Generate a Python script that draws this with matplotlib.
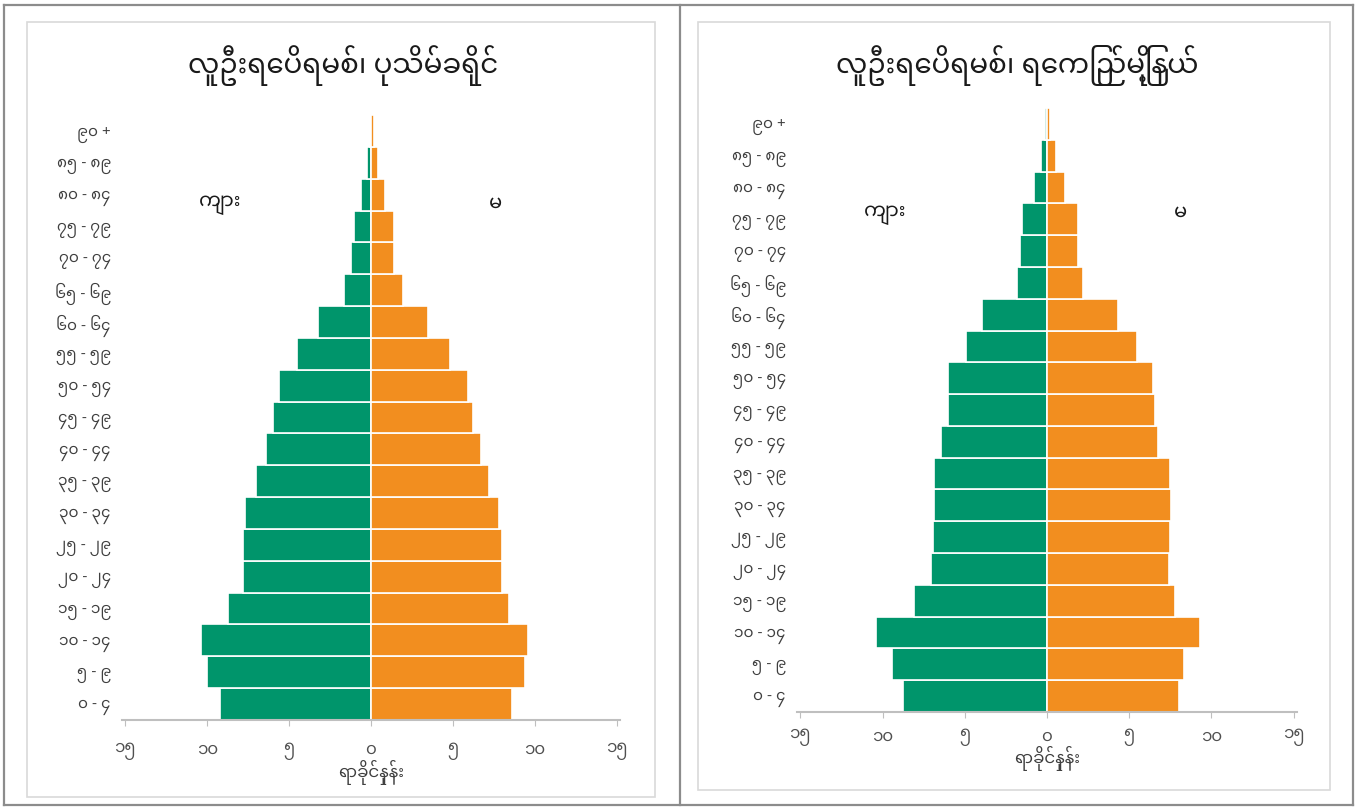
import numpy as np
import matplotlib
matplotlib.use("Agg")
import matplotlib.pyplot as plt
from matplotlib import font_manager
from matplotlib.patches import Rectangle
from matplotlib.lines import Line2D

# ========== DATA ==========
age_groups = ["၀ - ၄", "၅ - ၉", "၁၀ - ၁၄", "၁၅ - ၁၉", "၂၀ - ၂၄", "၂၅ - ၂၉", "၃၀ - ၃၄",
              "၃၅ - ၃၉", "၄၀ - ၄၄", "၄၅ - ၄၉", "၅၀ - ၅၄", "၅၅ - ၅၉", "၆၀ - ၆၄",
              "၆၅ - ၆၉", "၇၀ - ၇၄", "၇၅ - ၇၉", "၈၀ - ၈၄", "၈၅ - ၈၉", "၉၀ +"]

# left chart: district (percent)
left_male = [9.2, 10.0, 10.4, 8.7, 7.8, 7.8, 7.7, 7.0, 6.4, 6.0, 5.6, 4.5, 3.25,
             1.65, 1.2, 1.05, 0.6, 0.26, 0.08]
left_female = [8.6, 9.4, 9.6, 8.4, 8.0, 8.0, 7.8, 7.2, 6.7, 6.2, 5.9, 4.8, 3.5,
               1.95, 1.43, 1.4, 0.86, 0.4, 0.16]

# right chart: township (percent)
right_male = [8.75, 9.4, 10.4, 8.1, 7.05, 6.95, 6.9, 6.9, 6.45, 6.0, 6.0, 4.95, 3.95,
              1.8, 1.62, 1.5, 0.82, 0.36, 0.1]
right_female = [8.0, 8.3, 9.3, 7.8, 7.4, 7.5, 7.55, 7.5, 6.75, 6.55, 6.47, 5.5, 4.3,
                2.2, 1.87, 1.87, 1.08, 0.54, 0.2]

titles = ["လူဦးရေပိရမစ်၊ ပုသိမ်ခရိုင်", "လူဦးရေပိရမစ်၊ ရေကြည်မြို့နယ်"]
male_label = "ကျား"
female_label = "မ"
xlabel = "ရာခိုင်နှုန်း"
xticks = [-15, -10, -5, 0, 5, 10, 15]
xtick_labels = ["၁၅", "၁၀", "၅", "၀", "၅", "၁၀", "၁၅"]

GREEN = "#00956b"
ORANGE = "#f28e1f"


# ========== FONT (pick an installed Myanmar font) ==========
def find_myanmar_font():
    from fontTools.ttLib import TTFont
    found = {}
    for path in sorted(font_manager.findSystemFonts()):
        try:
            f = TTFont(path, fontNumber=0, lazy=True)
            cmap = f.getBestCmap()
            if cmap and ord("က") in cmap:
                found[path] = font_manager.FontProperties(fname=path).get_name()
        except Exception:
            continue
    for want in ["Noto Sans Myanmar", "Myanmar Sans Pro"]:
        for path, name in found.items():
            if name == want:
                font_manager.fontManager.addfont(path)
                return name
    for path, name in found.items():
        font_manager.fontManager.addfont(path)
        return name
    return None


try:
    mm_font = find_myanmar_font()
except Exception:
    mm_font = None
plt.rcParams["font.family"] = [mm_font, "DejaVu Sans"] if mm_font else ["DejaVu Sans"]

W, H = 1357, 809
fig = plt.figure(figsize=(W / 100, H / 100), dpi=100)


def fx(px):
    return px / W


def fy(py):
    return 1 - py / H


# table frame and chart boxes
frame = dict(color="#8c8c8c", lw=1.6, transform=fig.transFigure)
fig.add_artist(Line2D([fx(4), fx(1353)], [fy(5), fy(5)], **frame))
fig.add_artist(Line2D([fx(4), fx(1353)], [fy(805), fy(805)], **frame))
fig.add_artist(Line2D([fx(4), fx(4)], [fy(5), fy(805)], **frame))
fig.add_artist(Line2D([fx(1353), fx(1353)], [fy(5), fy(805)], **frame))
fig.add_artist(Line2D([fx(680), fx(680)], [fy(5), fy(805)], **frame))
for (x0, y0, x1, y1) in [(27, 22, 655, 797), (698, 22, 1330, 790)]:
    fig.add_artist(Rectangle((fx(x0), fy(y1)), fx(x1) - fx(x0), fy(y0) - fy(y1),
                             transform=fig.transFigure, fill=False,
                             edgecolor="#d9d9d9", lw=1.2))

panels = [
    dict(male=left_male, female=left_female, rect=(122, 115, 620, 720),
         title_xy=(343, 66), mlab=(220, 205), flab=(495, 203), pad=12),
    dict(male=right_male, female=right_female, rect=(797, 108, 1297, 712),
         title_xy=(1017, 66), mlab=(885, 215), flab=(1180, 212), pad=8),
]

y = np.arange(len(age_groups))
for i, p in enumerate(panels):
    x0, y0, x1, y1 = p["rect"]
    ax = fig.add_axes([fx(x0), fy(y1), fx(x1) - fx(x0), fy(y0) - fy(y1)])
    ax.barh(y, -np.array(p["male"]), height=1.0, color=GREEN, edgecolor="white", linewidth=1.2)
    ax.barh(y, p["female"], height=1.0, color=ORANGE, edgecolor="white", linewidth=1.2)
    ax.set_xlim(-15.2, 15.2)
    ax.set_ylim(-0.5, len(age_groups) - 0.5)
    ax.set_yticks(y)
    ax.set_yticklabels(age_groups, fontsize=11, color="#404040")
    ax.tick_params(axis="y", length=0, pad=8)
    ax.set_xticks(xticks)
    ax.set_xticklabels(xtick_labels, fontsize=12, color="#505050")
    ax.tick_params(axis="x", length=4, color="#bfbfbf", pad=p["pad"])
    for s in ["top", "right", "left"]:
        ax.spines[s].set_visible(False)
    ax.spines["bottom"].set_color("#bfbfbf")
    ax.spines["bottom"].set_linewidth(1.5)
    ax.set_xlabel(xlabel, fontsize=12, color="#404040", labelpad=0)
    ax.set_facecolor("none")

    fig.text(fx(p["title_xy"][0]), fy(p["title_xy"][1]), titles[i], fontsize=20,
             ha="center", va="center", color="#1a1a1a")
    fig.text(fx(p["mlab"][0]), fy(p["mlab"][1]), male_label, fontsize=14,
             ha="center", va="center", color="#1a1a1a")
    fig.text(fx(p["flab"][0]), fy(p["flab"][1]), female_label, fontsize=14,
             ha="center", va="center", color="#1a1a1a")

plt.savefig("out.png", dpi=100)
